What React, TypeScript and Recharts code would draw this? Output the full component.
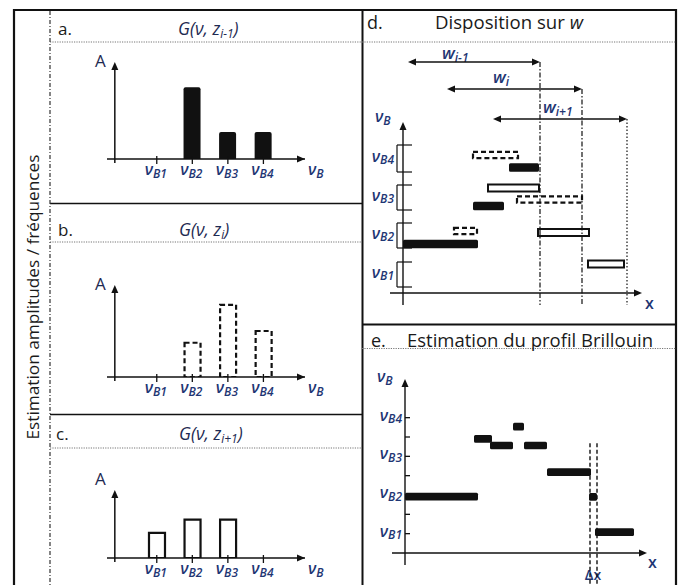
import React from 'react';
import { ComposedChart, Bar, XAxis, YAxis, ReferenceLine, ReferenceArea, ReferenceDot } from 'recharts';

// ---------------- data ----------------
const nuLevels = [1, 2, 3, 4];
const nuSubscripts = ['B1', 'B2', 'B3', 'B4'];
const ampPrev = [0, 8, 3, 3]; // G(ν, z_{i-1})
const ampCur = [0, 3.8, 8, 5.1]; // G(ν, z_i)
const ampNext = [2.8, 4.3, 4.3, 0]; // G(ν, z_{i+1})

// panel d : windows and segments along x
const winStart = [0.5, 4.4, 9.0];
const winEnd = [13.7, 17.9, 22.4];
const winLevel = [23.1, 20.4, 17.4];
const bracketLow = [0.6, 4.5, 8.3, 12.1];
const bracketHigh = [3.1, 7.0, 10.8, 14.8];
const prevStart = [0, 7.0, 10.6];
const prevEnd = [7.5, 10.1, 13.6];
const prevLevel = [4.9, 8.7, 12.55];
const curStart = [5.1, 11.4, 7.0];
const curEnd = [7.4, 17.9, 11.5];
const curLevel = [6.2, 9.35, 13.8];
const nextStart = [8.5, 13.5, 18.5];
const nextEnd = [13.6, 18.6, 22.1];
const nextLevel = [10.5, 6.05, 2.9];

// panel e : estimated Brillouin profile
const profStart = [0, 6.9, 8.5, 10.8, 11.9, 14.2, 18.4, 19.0];
const profEnd = [7.3, 8.7, 10.8, 11.9, 14.2, 18.6, 19.2, 22.9];
const profLevel = [1.96, 3.45, 3.28, 3.77, 3.28, 2.59, 1.95, 1.04];
const profTicks = [1, 1.5, 2, 2.5, 3, 3.5, 4];
const deltaX = [18.5, 19.2];

// ---------------- styles ----------------
const INK = '#111';
const BLUE = '#1f3674';
const DARK = '#1a1a1a';
const FONT = "'Open Sans', Lato, sans-serif";

const ArrowUp = (p: any) => (
  <path d={`M${p.cx},${p.cy} L${p.cx - 3.5},${p.cy + 8} L${p.cx + 3.5},${p.cy + 8} Z`} fill={INK} />
);
const ArrowRight = (p: any) => (
  <path d={`M${p.cx},${p.cy} L${p.cx - 8},${p.cy - 3.5} L${p.cx - 8},${p.cy + 3.5} Z`} fill={INK} />
);
const ArrowLeft = (p: any) => (
  <path d={`M${p.cx},${p.cy} L${p.cx + 8},${p.cy - 3.5} L${p.cx + 8},${p.cy + 3.5} Z`} fill={INK} />
);

const NuLabel = ({ x, y, anchor, sub }: any) => (
  <text x={x} y={y} textAnchor={anchor} fill={BLUE} fontFamily={FONT} fontStyle="italic" fontWeight={600} fontSize={16}>
    ν<tspan fontSize={12} dy={2.5}>{sub}</tspan>
  </text>
);

const NuXTick = (props: any) => {
  const { x, y, payload } = props;
  const i = nuLevels.indexOf(payload.value);
  return (
    <g>
      <line x1={x} x2={x} y1={y - 3} y2={y + 5} stroke={INK} strokeWidth={1.3} />
      <NuLabel x={x - 1} y={y + 16} anchor="middle" sub={nuSubscripts[i]} />
    </g>
  );
};

const DYTick = (props: any) => {
  const { x, y, index } = props;
  return <NuLabel x={x - 9} y={y + 3} anchor="end" sub={nuSubscripts[index]} />;
};

const EYTick = (props: any) => {
  const { x, y, payload } = props;
  const k = nuLevels.indexOf(payload.value);
  return (
    <g>
      <line x1={x} x2={x + 5} y1={y} y2={y} stroke={INK} strokeWidth={1.3} />
      {k >= 0 && <NuLabel x={x - 3} y={y + 3} anchor="end" sub={nuSubscripts[k]} />}
    </g>
  );
};

function AmpChart({ amps, top, height, mTop, mBottom, axisH, yMax, variant }: any) {
  const data = nuLevels.map((v, i) => ({ v, amp: amps[i] }));
  const barProps: any =
    variant === 'solid'
      ? { fill: INK, radius: [2, 2, 0, 0] }
      : variant === 'dashed'
      ? { fill: 'none', stroke: INK, strokeWidth: 2.2, strokeDasharray: '5 3' }
      : { fill: '#fff', stroke: INK, strokeWidth: 2.2 };
  return (
    <div style={{ position: 'absolute', left: 50, top }}>
      <ComposedChart width={312} height={height} data={data} margin={{ top: mTop, right: 57, bottom: mBottom, left: 57 }}>
        <XAxis
          type="number"
          dataKey="v"
          domain={[-0.4, 5.17]}
          allowDataOverflow
          ticks={nuLevels}
          interval={0}
          tick={NuXTick}
          tickLine={false}
          tickSize={0}
          tickMargin={0}
          height={axisH}
          axisLine={{ stroke: INK, strokeWidth: 1.5 }}
        />
        <YAxis hide type="number" domain={[0, yMax]} allowDataOverflow />
        <Bar dataKey="amp" barSize={variant === 'solid' ? 17 : 16} isAnimationActive={false} {...barProps} />
        <ReferenceLine
          segment={[{ x: -0.18, y: -0.45 }, { x: -0.18, y: yMax - 0.4 }]}
          stroke={INK}
          strokeWidth={1.5}
          ifOverflow="visible"
        />
        <ReferenceDot x={-0.18} y={yMax} shape={ArrowUp} ifOverflow="visible" />
        <ReferenceDot x={5.17} y={0} shape={ArrowRight} ifOverflow="visible" />
      </ComposedChart>
    </div>
  );
}

const seg = (x1: number, y1: number, x2: number, y2: number) => [
  { x: x1, y: y1 },
  { x: x2, y: y2 },
];

function PanelD() {
  const bracketMid = bracketLow.map((lo, i) => (lo + bracketHigh[i]) / 2);
  const rows = bracketMid.map((y, i) => ({ x: 0, y, i }));
  const yBottom = -1.2;
  return (
    <div style={{ position: 'absolute', left: 362, top: 43 }}>
      <ComposedChart width={314} height={280} data={rows} margin={{ top: 2, right: 33, bottom: 18, left: 0 }}>
        <XAxis type="number" dataKey="x" hide domain={[0, 24]} allowDataOverflow />
        <YAxis
          type="number"
          dataKey="y"
          domain={[yBottom, 24.8]}
          allowDataOverflow
          width={41}
          ticks={bracketMid}
          interval={0}
          tick={DYTick}
          tickLine={false}
          axisLine={false}
          tickSize={0}
          tickMargin={0}
        />
        {prevStart.map((s, i) => (
          <ReferenceArea
            key={'p' + i}
            x1={s}
            x2={prevEnd[i]}
            y1={prevLevel[i] - 0.42}
            y2={prevLevel[i] + 0.42}
            fill={INK}
            fillOpacity={1}
            stroke="none"
            radius={1.5}
            ifOverflow="visible"
          />
        ))}
        {curStart.map((s, i) => (
          <ReferenceArea
            key={'c' + i}
            x1={s}
            x2={curEnd[i]}
            y1={curLevel[i] - 0.32}
            y2={curLevel[i] + 0.32}
            fill="none"
            stroke={INK}
            strokeWidth={2.2}
            strokeDasharray="5 3"
            ifOverflow="visible"
          />
        ))}
        {nextStart.map((s, i) => (
          <ReferenceArea
            key={'n' + i}
            x1={s}
            x2={nextEnd[i]}
            y1={nextLevel[i] - 0.35}
            y2={nextLevel[i] + 0.35}
            fill="#fff"
            fillOpacity={1}
            stroke={INK}
            strokeWidth={2}
            ifOverflow="visible"
          />
        ))}
        {/* axes */}
        <ReferenceLine segment={seg(0, yBottom, 0, 16.5)} stroke={INK} strokeWidth={1.4} ifOverflow="visible" />
        <ReferenceDot x={0} y={17.1} shape={ArrowUp} ifOverflow="visible" />
        <ReferenceLine segment={seg(-1.3, 0, 23.5, 0)} stroke={INK} strokeWidth={1.4} ifOverflow="visible" />
        <ReferenceDot x={23.9} y={0} shape={ArrowRight} ifOverflow="visible" />
        {/* brackets */}
        {bracketLow.map((lo, i) => (
          <React.Fragment key={'b' + i}>
            <ReferenceLine segment={seg(-0.6, lo, -0.6, bracketHigh[i])} stroke={INK} strokeWidth={1.2} ifOverflow="visible" />
            <ReferenceLine segment={seg(-0.6, lo, 0.9, lo)} stroke={INK} strokeWidth={1.2} ifOverflow="visible" />
            <ReferenceLine segment={seg(-0.6, bracketHigh[i], 0.9, bracketHigh[i])} stroke={INK} strokeWidth={1.2} ifOverflow="visible" />
          </React.Fragment>
        ))}
        {/* windows */}
        {winStart.map((s, i) => (
          <React.Fragment key={'w' + i}>
            <ReferenceLine segment={seg(s + 0.4, winLevel[i], winEnd[i] - 0.4, winLevel[i])} stroke={INK} strokeWidth={1.4} ifOverflow="visible" />
            <ReferenceDot x={s} y={winLevel[i]} shape={ArrowLeft} ifOverflow="visible" />
            <ReferenceDot x={winEnd[i]} y={winLevel[i]} shape={ArrowRight} ifOverflow="visible" />
            <ReferenceLine
              segment={seg(winEnd[i], winLevel[i], winEnd[i], yBottom)}
              stroke={INK}
              strokeWidth={1.2}
              strokeDasharray={i === 2 ? '1.5 2' : '5 2 1.5 2'}
              ifOverflow="visible"
            />
          </React.Fragment>
        ))}
      </ComposedChart>
    </div>
  );
}

function PanelE() {
  const rows = profStart.map((s, i) => ({ x: s, y: profLevel[i] }));
  const yMin = 0.5;
  return (
    <div style={{ position: 'absolute', left: 362, top: 349 }}>
      <ComposedChart width={314} height={236} data={rows} margin={{ top: 30, right: 31, bottom: 32, left: 0 }}>
        <XAxis type="number" dataKey="x" hide domain={[0, 24]} allowDataOverflow />
        <YAxis
          type="number"
          dataKey="y"
          domain={[yMin, 5]}
          allowDataOverflow
          width={43}
          ticks={profTicks}
          interval={0}
          tick={EYTick}
          tickLine={false}
          axisLine={false}
          tickSize={0}
          tickMargin={0}
        />
        {profStart.map((s, i) => (
          <ReferenceArea
            key={'e' + i}
            x1={s}
            x2={profEnd[i]}
            y1={profLevel[i] - 0.1}
            y2={profLevel[i] + 0.1}
            fill={INK}
            fillOpacity={1}
            stroke="none"
            radius={1.5}
            ifOverflow="visible"
          />
        ))}
        {deltaX.map((dx, i) => (
          <ReferenceLine
            key={'d' + i}
            segment={seg(dx, 3.34, dx, -0.35)}
            stroke={INK}
            strokeWidth={1.4}
            strokeDasharray="4 2.5"
            ifOverflow="visible"
          />
        ))}
        <ReferenceLine segment={seg(0, 0.19, 0, 4.85)} stroke={INK} strokeWidth={1.4} ifOverflow="visible" />
        <ReferenceDot x={0} y={5} shape={ArrowUp} ifOverflow="visible" />
        <ReferenceLine segment={seg(-1.3, yMin, 23.8, yMin)} stroke={INK} strokeWidth={1.4} ifOverflow="visible" />
        <ReferenceDot x={24.2} y={yMin} shape={ArrowRight} ifOverflow="visible" />
      </ComposedChart>
    </div>
  );
}

const T = ({ x, y, children, size = 16, color = DARK, italic = false, anchor = 'start', ...rest }: any) => (
  <text
    x={x}
    y={y}
    fontFamily={FONT}
    fontSize={size}
    fill={color}
    fontStyle={italic ? 'italic' : 'normal'}
    textAnchor={anchor}
    {...rest}
  >
    {children}
  </text>
);

function Frame() {
  const dotted = { stroke: '#777', strokeWidth: 1.2, strokeDasharray: '1.2 1.2' };
  return (
    <svg width={688} height={585} style={{ position: 'absolute', left: 0, top: 0 }}>
      <line x1={14} y1={9} x2={14} y2={585} stroke={INK} strokeWidth={2.2} />
      <line x1={13} y1={10} x2={677} y2={10} stroke={INK} strokeWidth={2.2} />
      <line x1={362.5} y1={9} x2={362.5} y2={585} stroke={INK} strokeWidth={2} />
      <line x1={676} y1={9} x2={676} y2={585} stroke={INK} strokeWidth={2.2} />
      <line x1={362} y1={324.5} x2={677} y2={324.5} stroke={INK} strokeWidth={2} />
      <line x1={50} y1={203.5} x2={362} y2={203.5} stroke={INK} strokeWidth={1.5} />
      <line x1={50} y1={414.5} x2={362} y2={414.5} stroke={INK} strokeWidth={1.5} />
      <line x1={50} y1={42} x2={676} y2={42} {...dotted} />
      <line x1={50} y1={242} x2={362} y2={242} {...dotted} />
      <line x1={50} y1={448} x2={362} y2={448} {...dotted} />
      <line x1={362} y1={348.5} x2={676} y2={348.5} {...dotted} />
      <line x1={50} y1={11} x2={50} y2={585} stroke="#333" strokeWidth={1.2} strokeDasharray="4 2 1 2" />

      <T x={33} y={297} anchor="middle" transform="rotate(-90 33 297)" dominantBaseline="central" textLength={285} lengthAdjust="spacingAndGlyphs">
        Estimation amplitudes / fréquences
      </T>

      {/* panel titles */}
      <T x={58} y={35} size={17}>a.</T>
      <T x={58} y={236} size={17}>b.</T>
      <T x={56} y={440} size={17}>c.</T>
      <T x={178} y={35} italic color="#1e2a52" size={17.5}>
        G(ν, z<tspan fontSize={12} dy={3}>i-1</tspan>
        <tspan dy={-3}>)</tspan>
      </T>
      <T x={179} y={236} italic color="#1e2a52" size={17.5}>
        G(ν, z<tspan fontSize={12} dy={3}>i</tspan>
        <tspan dy={-3}>)</tspan>
      </T>
      <T x={179} y={440} italic color="#1e2a52" size={17.5}>
        G(ν, z<tspan fontSize={12} dy={3}>i+1</tspan>
        <tspan dy={-3}>)</tspan>
      </T>
      <T x={367} y={29} size={18}>d.</T>
      <T x={435} y={29} size={18} textLength={148} lengthAdjust="spacingAndGlyphs">
        Disposition sur <tspan fontStyle="italic">w</tspan>
      </T>
      <T x={371} y={347} size={18}>e.</T>
      <T x={407} y={347} size={18} textLength={246} lengthAdjust="spacingAndGlyphs">Estimation du profil Brillouin</T>

      {/* axis names */}
      <T x={95} y={67} color="#1e2a52" size={17}>A</T>
      <T x={95} y={290} color="#1e2a52" size={17}>A</T>
      <T x={95} y={485} color="#1e2a52" size={17}>A</T>
      <NuLabel x={308} y={175} anchor="start" sub="B" />
      <NuLabel x={308} y={393} anchor="start" sub="B" />
      <NuLabel x={308} y={574} anchor="start" sub="B" />
      <NuLabel x={375} y={122} anchor="start" sub="B" />
      <NuLabel x={377} y={382} anchor="start" sub="B" />
      <T x={645} y={309} color={BLUE} size={16} fontWeight={600}>x</T>
      <T x={648} y={568} color={BLUE} size={16} fontWeight={600}>x</T>
      <T x={593} y={580} anchor="middle" color={BLUE} size={14} fontWeight={600}>Δx</T>

      {/* window labels */}
      <T x={442} y={59} italic color={BLUE} size={17} fontWeight={600}>
        w<tspan fontSize={12} dy={3}>i-1</tspan>
      </T>
      <T x={493} y={83} italic color={BLUE} size={17} fontWeight={600}>
        w<tspan fontSize={12} dy={3}>i</tspan>
      </T>
      <T x={543} y={113} italic color={BLUE} size={17} fontWeight={600}>
        w<tspan fontSize={12} dy={3}>i+1</tspan>
      </T>
    </svg>
  );
}

export default function App() {
  return (
    <div style={{ position: 'absolute', left: 0, top: 0, width: 688, height: 585, overflow: 'hidden', background: '#fff' }}>
      <Frame />
      <AmpChart amps={ampPrev} top={43} height={160} mTop={19} mBottom={14} axisH={30} yMax={10.8} variant="solid" />
      <AmpChart amps={ampCur} top={243} height={172} mTop={42} mBottom={8} axisH={30} yMax={10.2} variant="dashed" />
      <AmpChart amps={ampNext} top={449} height={136} mTop={41} mBottom={0} axisH={27} yMax={7.6} variant="open" />
      <PanelD />
      <PanelE />
    </div>
  );
}
